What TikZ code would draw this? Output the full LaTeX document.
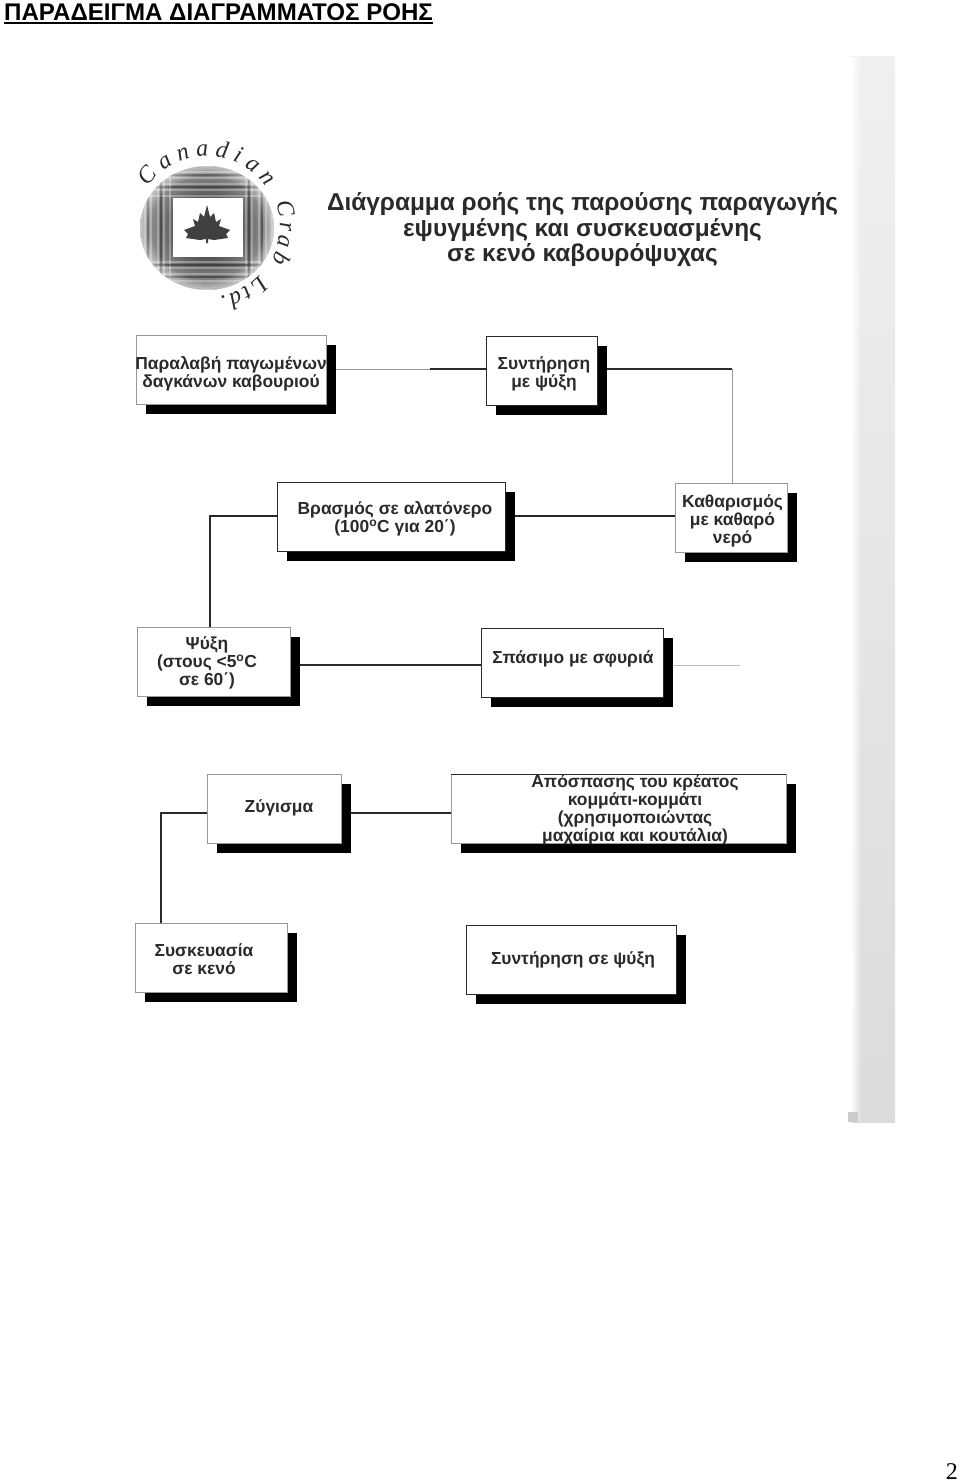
\documentclass[tikz,border=0pt]{standalone}
\usepackage{fontspec}
\setmainfont{Liberation Sans}
\newfontfamily\pageserif{Liberation Serif}
\usetikzlibrary{shadows,decorations.text}
\definecolor{ink}{HTML}{2A2A2A}
\tikzset{
  flowbox/.style={draw=ink,line width=0.9pt,fill=white,minimum height=69pt,inner sep=0pt,
    general shadow={fill=black,shadow xshift=9.5pt,shadow yshift=-9.5pt}},
  paleedge/.style={draw=black!40,line width=0.7pt},
  flowtext/.style={inner sep=0pt,align=center,text=ink,font=\fontsize{17.4}{18}\selectfont\bfseries},
  link/.style={draw=ink,line width=1.05pt},
  faint/.style={draw=black!40,line width=0.9pt},
  logotext/.style={decorate,decoration={text along path,text align=fit to path,text={#1}}}
}
\newcommand{\logofont}{\pageserif\itshape\fontsize{24}{24}\selectfont\color{ink}}
\begin{document}
\begin{tikzpicture}[x=1pt,y=-1pt]
\useasboundingbox (0,0) rectangle (960,1482);
\fill[white] (0,0) rectangle (960,1482);
% title
\node[anchor=west,inner sep=0pt,font=\fontsize{24.07}{26}\selectfont\bfseries] (title) at (4,12) {ΠΑΡΑΔΕΙΓΜΑ ΔΙΑΓΡΑΜΜΑΤΟΣ ΡΟΗΣ};
\draw[line width=2.2pt] (title.west |- 0,23) -- (title.east |- 0,23);
% band
\shade[top color=black!6,bottom color=black!14] (851,57) rectangle (895,1122);
\foreach \i in {0,...,9}{\fill[white,opacity=1-\i/10] (851+\i,57) rectangle (852+\i,1122);}
\fill[black!20] (848,1112) rectangle (858,1122);
% logo
\begin{scope}
\clip (207,228) ellipse [x radius=67,y radius=62];
\shade[inner color=black!90,outer color=black!35] (207,228) circle (70);
\foreach \v in {145,151,158,164,170,246,252,259,266,272}{\draw[white,opacity=.3,line width=1.6pt] (\v,160) -- (\v,296);}
\foreach \h in {172,178,184,190,196,262,268,274,281}{\draw[white,opacity=.3,line width=1.6pt] (140,\h) -- (276,\h);}
\foreach \v in {148,161,249,262}{\draw[black,opacity=.35,line width=2pt] (\v,160) -- (\v,296);}
\foreach \h in {175,187,265,277}{\draw[black,opacity=.35,line width=2pt] (140,\h) -- (276,\h);}
\foreach \r in {0,...,5}{\draw[white,opacity=.08+.08*\r,line width=1.5pt] (207,228) ellipse [x radius=58+1.8*\r,y radius=53+1.8*\r];}
\end{scope}
\fill[white] (173,198) rectangle (243,257);
\fill[black!75] (207,205) -- (210,217) -- (214,213) -- (216,222) -- (221,219) -- (219,226) -- (230,230) -- (226,234) -- (228,238) -- (214,240) -- (208,239) -- (208,243) -- (206,243) -- (206,239) -- (200,240) -- (186,238) -- (188,234) -- (184,230) -- (195,226) -- (193,219) -- (198,222) -- (200,213) -- (204,217) -- cycle;
\path[logotext={|\logofont|Canadian}] (207,228) ++(-145:72) arc[start angle=-145,end angle=-35,radius=72];
\path[logotext={|\logofont|Crab}] (207,228) ++(-20:73) arc[start angle=-20,end angle=27,radius=73];
\path[logotext={|\logofont|Ltd.}] (207,228) ++(42:70) arc[start angle=42,end angle=80,radius=70];
% heading
\node[inner sep=0pt,align=center,text=ink,font=\fontsize{24.4}{25.5}\selectfont\bfseries] (heading) at (582.5,230) {Διάγραμμα ροής της παρούσης παραγωγής\\εψυγμένης και συσκευασμένης\\σε κενό καβουρόψυχας};
% connector bend points and free end
\coordinate (c12) at (430,369);
\coordinate (c24) at (732,369);
\coordinate (c35) at (210,516);
\coordinate (free) at (740,665);
\coordinate (c79) at (161,813);
% boxes
\node[flowbox,paleedge,minimum width=190pt] (b1) at (231,370) {};
\node[flowbox,minimum width=111pt] (b2) at (541.5,370.5) {};
\node[flowbox,minimum width=228pt] (b3) at (391,516.5) {};
\node[flowbox,paleedge,minimum width=112pt] (b4) at (731,517.5) {};
\node[flowbox,paleedge,minimum width=153pt] (b5) at (213.5,662) {};
\node[flowbox,minimum width=182pt] (b6) at (572,662.5) {};
\node[flowbox,paleedge,minimum width=134pt] (b7) at (274,809) {};
\node[flowbox,paleedge,minimum width=335pt] (b8) at (618.5,809) {};
\node[flowbox,paleedge,minimum width=152pt] (b9) at (211,957.5) {};
\node[flowbox,minimum width=210pt] (b10) at (571,959.5) {};
\draw[link] (b8.north west) -- (b8.north east);
% box texts
\node[flowtext] (t1) at (231,374) {Παραλαβή παγωμένων\\δαγκάνων καβουριού};
\node[flowtext] (t2) at (544,374) {Συντήρηση\\με ψύξη};
\node[flowtext] (t3) at (395,519) {Βρασμός σε αλατόνερο\\(100\textsuperscript{o}C για 20΄)};
\node[flowtext] (t4) at (732.5,521) {Καθαρισμός\\με καθαρό\\νερό};
\node[flowtext] (t5) at (207,663) {Ψύξη\\(στους <5\textsuperscript{o}C\\σε 60΄)};
\node[flowtext] (t6) at (573,659) {Σπάσιμο με σφυριά};
\node[flowtext] (t7) at (279,808) {Ζύγισμα};
\node[flowtext] (t8) at (635,810) {Απόσπασης του κρέατος\\κομμάτι-κομμάτι\\(χρησιμοποιώντας\\μαχαίρια και κουτάλια)};
\node[flowtext] (t9) at (204,959.5) {Συσκευασία\\σε κενό};
\node[flowtext] (t10) at (573,959.5) {Συντήρηση σε ψύξη};
% connectors
\draw[faint] (b1.east |- c24) ++(9.5,0) -- (c12);
\draw[link] (c12) -- (b2.west |- c12);
\draw[link] (b2.east |- c24) ++(9.5,0) -- (c24);
\draw[faint] (c24) -- (b4.north -| c24);
\draw[link] (b3.east |- c35) ++(9.5,0) -- (b4.west |- c35);
\draw[link] (b3.west |- c35) -- (c35) -- (b5.north -| c35);
\draw[link] (b5.east |- free) ++(9.5,0) -- (b6.west |- free);
\draw[draw=black!25,line width=0.9pt] (b6.east |- free) ++(9.5,0) -- (free);
\draw[link] (b7.east |- c79) ++(9.5,0) -- (b8.west |- c79);
\draw[link] (b7.west |- c79) -- (c79) -- (b9.north -| c79);
\node[anchor=south east,inner sep=0pt,font=\pageserif\fontsize{24}{24}\selectfont] (pagenum) at (958,1480) {2};
\end{tikzpicture}
\end{document}
